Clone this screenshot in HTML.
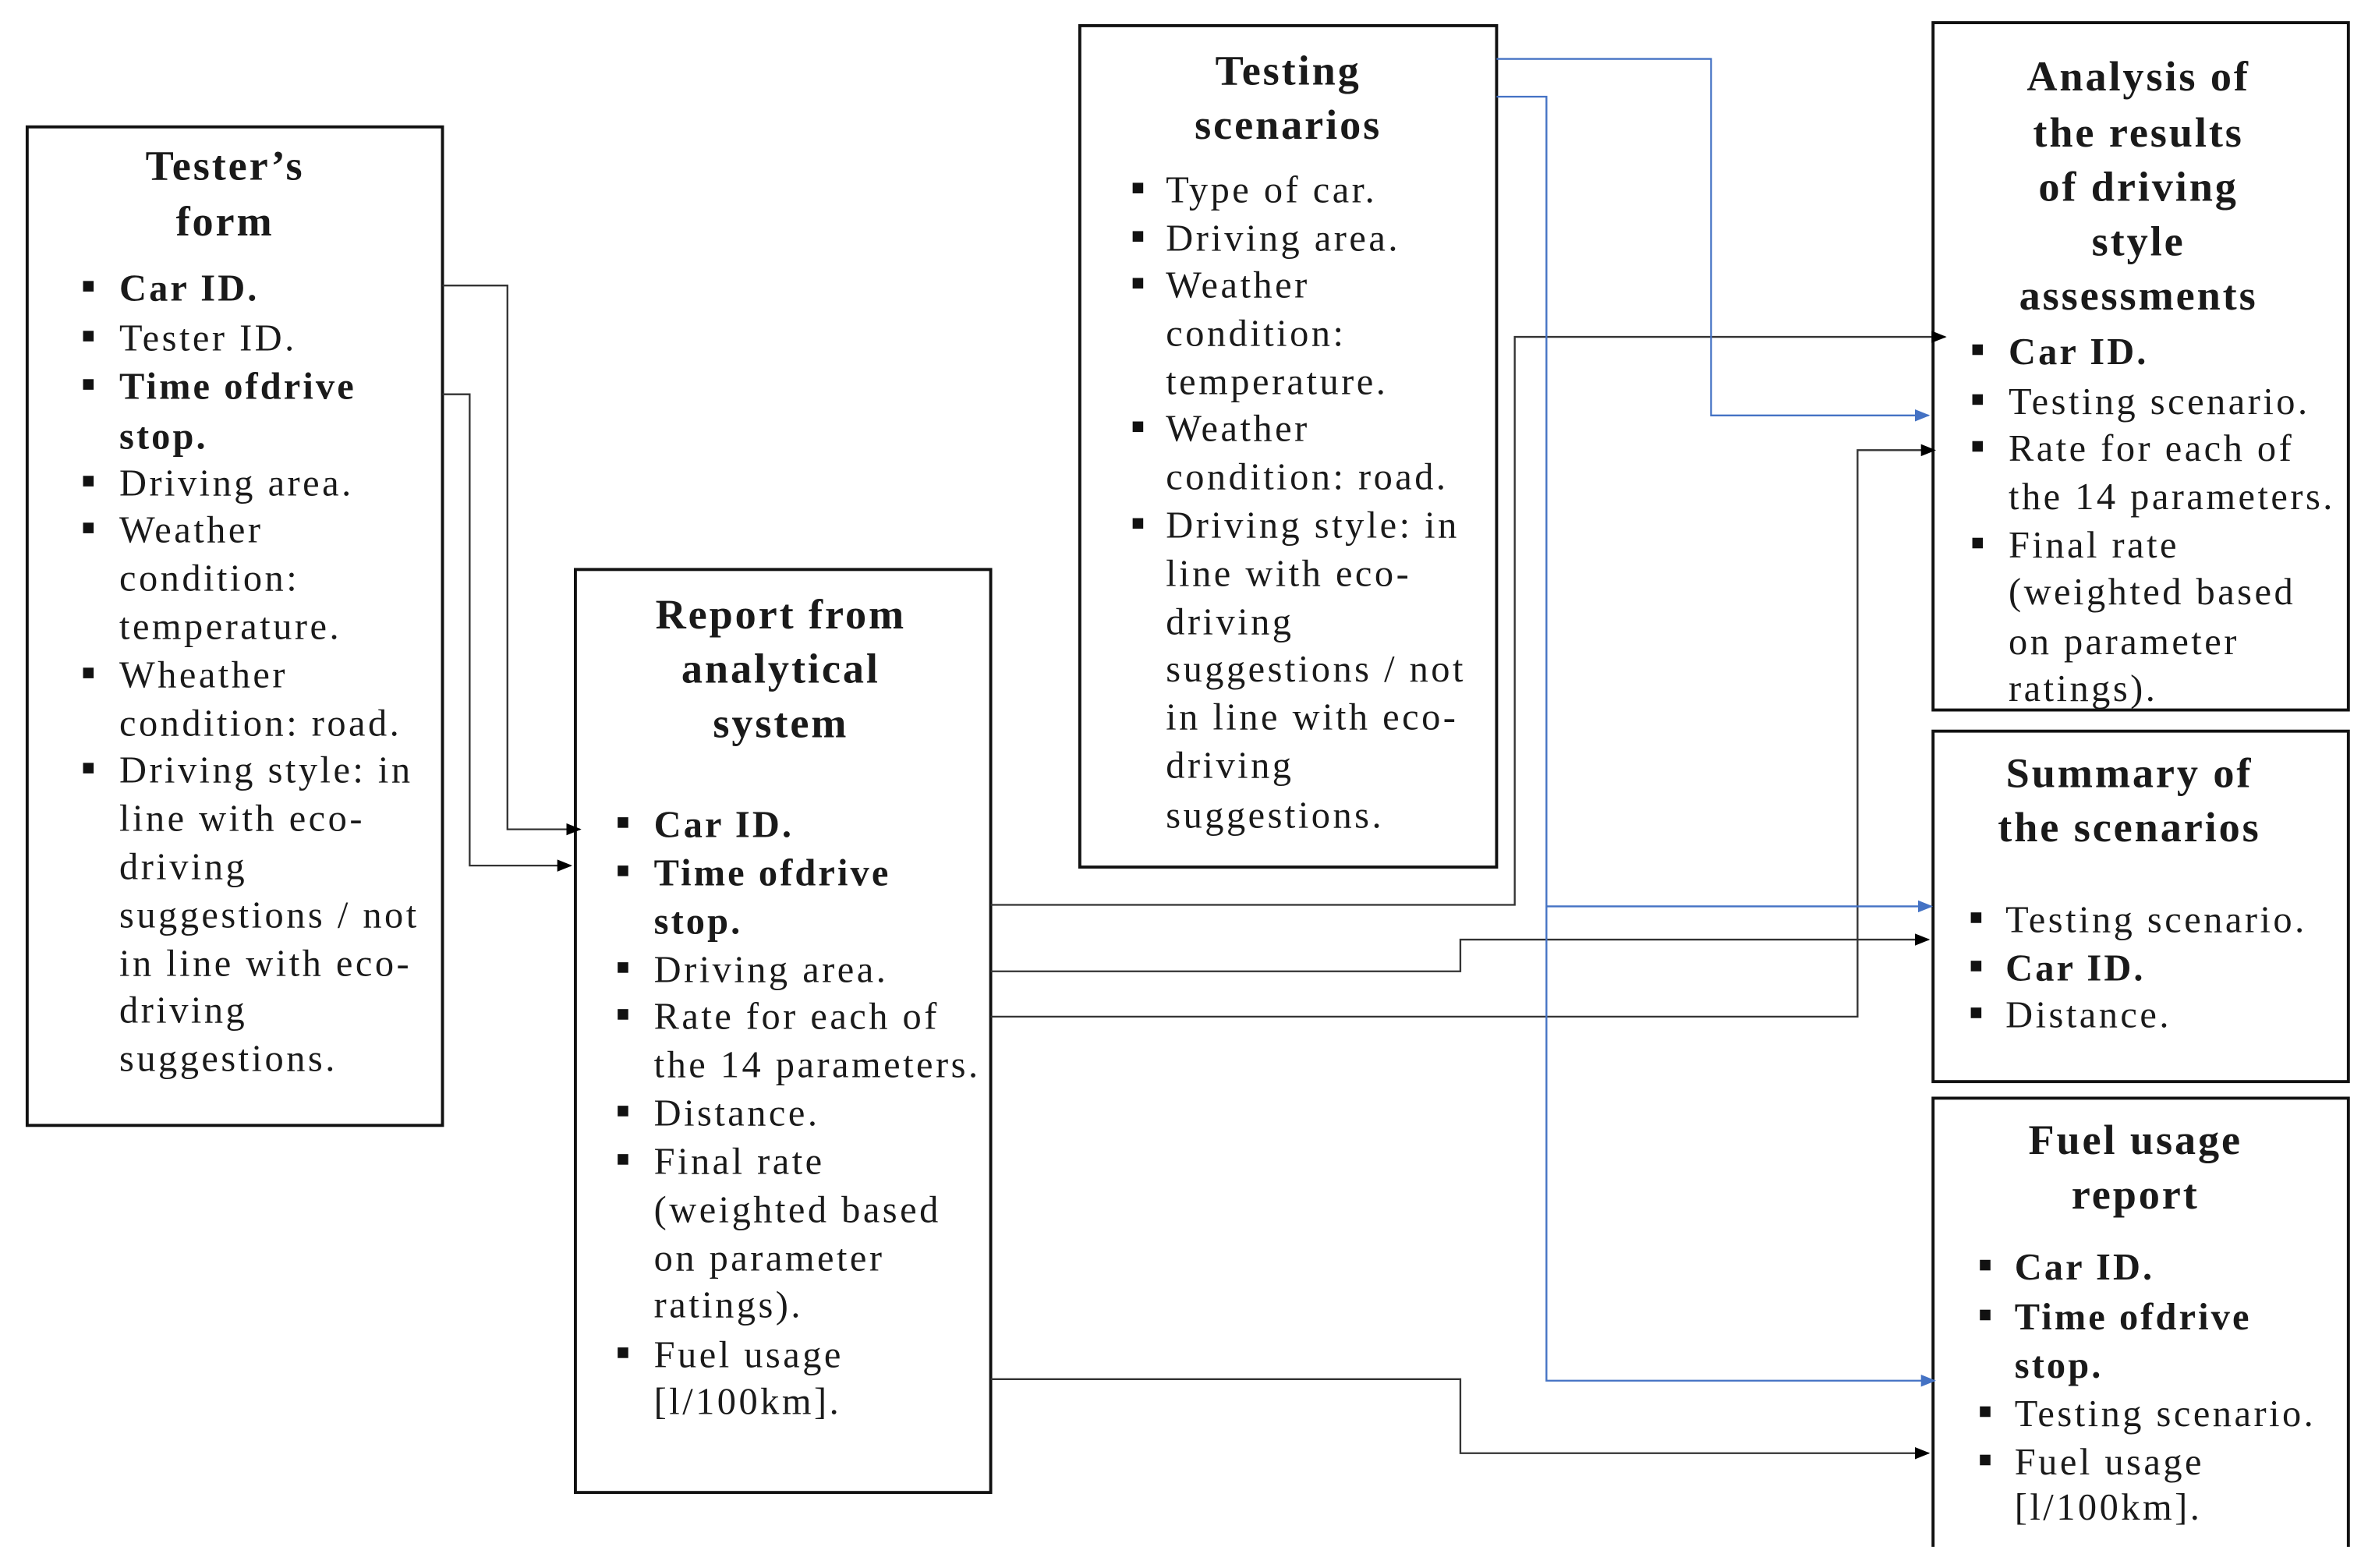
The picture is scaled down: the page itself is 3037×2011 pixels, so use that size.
<!DOCTYPE html>
<html><head><meta charset="utf-8">
<style>
html,body{margin:0;padding:0;background:#fff;}
svg{display:block;}
text{font-family:"Liberation Serif",serif;fill:#1a1a1a;}
.t{font-size:28px;font-weight:bold;text-anchor:middle;letter-spacing:1.5px;}
.i{font-size:25px;letter-spacing:1.8px;}
.b{font-size:25px;font-weight:bold;letter-spacing:1.6px;}
</style></head><body>
<svg width="3037" height="2011" viewBox="0 0 1568 1038" preserveAspectRatio="none" xmlns="http://www.w3.org/2000/svg">
<defs>
<marker id="ak" markerWidth="10" markerHeight="8" refX="9" refY="4" orient="auto" markerUnits="userSpaceOnUse"><path d="M0,0 L10,4 L0,8 z" fill="#000"/></marker>
<marker id="ab" markerWidth="10" markerHeight="8" refX="9" refY="4" orient="auto" markerUnits="userSpaceOnUse"><path d="M0,0 L10,4 L0,8 z" fill="#4472c4"/></marker>
</defs>
<g fill="none" stroke="#111" stroke-width="2">
<rect x="18" y="84" width="275" height="661"/>
<rect x="381" y="377" width="275" height="611"/>
<rect x="715" y="17" width="276" height="557"/>
<rect x="1280" y="15" width="275" height="455"/>
<rect x="1280" y="484" width="275" height="232"/>
<path d="M1280,1024 L1280,727 L1555,727 L1555,1024"/>
</g>
<g fill="none" stroke="#333" stroke-width="1.2">
<path d="M293,189 H336 V549 H384" marker-end="url(#ak)"/>
<path d="M293,261 H311 V573 H378" marker-end="url(#ak)"/>
<path d="M656,599 H1003 V223 H1288" marker-end="url(#ak)"/>
<path d="M656,643 H967 V622 H1277" marker-end="url(#ak)"/>
<path d="M656,673 H1230 V298 H1281" marker-end="url(#ak)"/>
<path d="M656,913 H967 V962 H1277" marker-end="url(#ak)"/>
</g>
<g fill="none" stroke="#4472c4" stroke-width="1.2">
<path d="M991,39 H1133 V275 H1277" marker-end="url(#ab)"/>
<path d="M991,64 H1024 V914 H1281" marker-end="url(#ab)"/>
<path d="M1024,600 H1279" marker-end="url(#ab)"/>
</g>

<!-- Tester's form -->
<text class="t" x="149" y="119">Tester’s</text>
<text class="t" x="149" y="156">form</text>
<g fill="#111">
<rect x="55" y="186" width="7" height="7"/><rect x="55" y="219" width="7" height="7"/><rect x="55" y="251" width="7" height="7"/>
<rect x="55" y="315" width="7" height="7"/><rect x="55" y="346" width="7" height="7"/><rect x="55" y="442" width="7" height="7"/><rect x="55" y="505" width="7" height="7"/>
</g>
<text class="b" x="79" y="199">Car ID.</text>
<text class="i" x="79" y="232">Tester ID.</text>
<text class="b" x="79" y="264">Time ofdrive</text>
<text class="b" x="79" y="297">stop.</text>
<text class="i" x="79" y="328">Driving area.</text>
<text class="i" x="79" y="359">Weather</text>
<text class="i" x="79" y="391">condition:</text>
<text class="i" x="79" y="423">temperature.</text>
<text class="i" x="79" y="455">Wheather</text>
<text class="i" x="79" y="487">condition: road.</text>
<text class="i" x="79" y="518">Driving style: in</text>
<text class="i" x="79" y="550">line with eco-</text>
<text class="i" x="79" y="582">driving</text>
<text class="i" x="79" y="614">suggestions / not</text>
<text class="i" x="79" y="646">in line with eco-</text>
<text class="i" x="79" y="677">driving</text>
<text class="i" x="79" y="709">suggestions.</text>

<!-- Report -->
<text class="t" x="517" y="416">Report from</text>
<text class="t" x="517" y="452">analytical</text>
<text class="t" x="517" y="488">system</text>
<g fill="#111">
<rect x="409" y="541" width="7" height="7"/><rect x="409" y="573" width="7" height="7"/><rect x="409" y="637" width="7" height="7"/>
<rect x="409" y="668" width="7" height="7"/><rect x="409" y="732" width="7" height="7"/><rect x="409" y="764" width="7" height="7"/><rect x="409" y="892" width="7" height="7"/>
</g>
<text class="b" x="433" y="554">Car ID.</text>
<text class="b" x="433" y="586">Time ofdrive</text>
<text class="b" x="433" y="618">stop.</text>
<text class="i" x="433" y="650">Driving area.</text>
<text class="i" x="433" y="681">Rate for each of</text>
<text class="i" x="433" y="713">the 14 parameters.</text>
<text class="i" x="433" y="745">Distance.</text>
<text class="i" x="433" y="777">Final rate</text>
<text class="i" x="433" y="809">(weighted based</text>
<text class="i" x="433" y="841">on parameter</text>
<text class="i" x="433" y="872">ratings).</text>
<text class="i" x="433" y="905">Fuel usage</text>
<text class="i" x="433" y="936">[l/100km].</text>

<!-- Testing scenarios -->
<text class="t" x="853" y="56">Testing</text>
<text class="t" x="853" y="92">scenarios</text>
<g fill="#111">
<rect x="750" y="121" width="7" height="7"/><rect x="750" y="153" width="7" height="7"/><rect x="750" y="184" width="7" height="7"/>
<rect x="750" y="279" width="7" height="7"/><rect x="750" y="343" width="7" height="7"/>
</g>
<text class="i" x="772" y="134">Type of car.</text>
<text class="i" x="772" y="166">Driving area.</text>
<text class="i" x="772" y="197">Weather</text>
<text class="i" x="772" y="229">condition:</text>
<text class="i" x="772" y="261">temperature.</text>
<text class="i" x="772" y="292">Weather</text>
<text class="i" x="772" y="324">condition: road.</text>
<text class="i" x="772" y="356">Driving style: in</text>
<text class="i" x="772" y="388">line with eco-</text>
<text class="i" x="772" y="420">driving</text>
<text class="i" x="772" y="451">suggestions / not</text>
<text class="i" x="772" y="483">in line with eco-</text>
<text class="i" x="772" y="515">driving</text>
<text class="i" x="772" y="548">suggestions.</text>

<!-- Analysis -->
<text class="t" x="1416" y="60">Analysis of</text>
<text class="t" x="1416" y="97">the results</text>
<text class="t" x="1416" y="133">of driving</text>
<text class="t" x="1416" y="169">style</text>
<text class="t" x="1416" y="205">assessments</text>
<g fill="#111">
<rect x="1306" y="228" width="7" height="7"/><rect x="1306" y="261" width="7" height="7"/><rect x="1306" y="292" width="7" height="7"/><rect x="1306" y="356" width="7" height="7"/>
</g>
<text class="b" x="1330" y="241">Car ID.</text>
<text class="i" x="1330" y="274">Testing scenario.</text>
<text class="i" x="1330" y="305">Rate for each of</text>
<text class="i" x="1330" y="337">the 14 parameters.</text>
<text class="i" x="1330" y="369">Final rate</text>
<text class="i" x="1330" y="400">(weighted based</text>
<text class="i" x="1330" y="433">on parameter</text>
<text class="i" x="1330" y="464">ratings).</text>

<!-- Summary -->
<text class="t" x="1410" y="521">Summary of</text>
<text class="t" x="1410" y="557">the scenarios</text>
<g fill="#111">
<rect x="1305" y="604" width="7" height="7"/><rect x="1305" y="636" width="7" height="7"/><rect x="1305" y="667" width="7" height="7"/>
</g>
<text class="i" x="1328" y="617">Testing scenario.</text>
<text class="b" x="1328" y="649">Car ID.</text>
<text class="i" x="1328" y="680">Distance.</text>

<!-- Fuel -->
<text class="t" x="1414" y="764">Fuel usage</text>
<text class="t" x="1414" y="800">report</text>
<g fill="#111">
<rect x="1311" y="834" width="7" height="7"/><rect x="1311" y="867" width="7" height="7"/><rect x="1311" y="931" width="7" height="7"/><rect x="1311" y="963" width="7" height="7"/>
</g>
<text class="b" x="1334" y="847">Car ID.</text>
<text class="b" x="1334" y="880">Time ofdrive</text>
<text class="b" x="1334" y="912">stop.</text>
<text class="i" x="1334" y="944">Testing scenario.</text>
<text class="i" x="1334" y="976">Fuel usage</text>
<text class="i" x="1334" y="1006">[l/100km].</text>
</svg>
</body></html>
